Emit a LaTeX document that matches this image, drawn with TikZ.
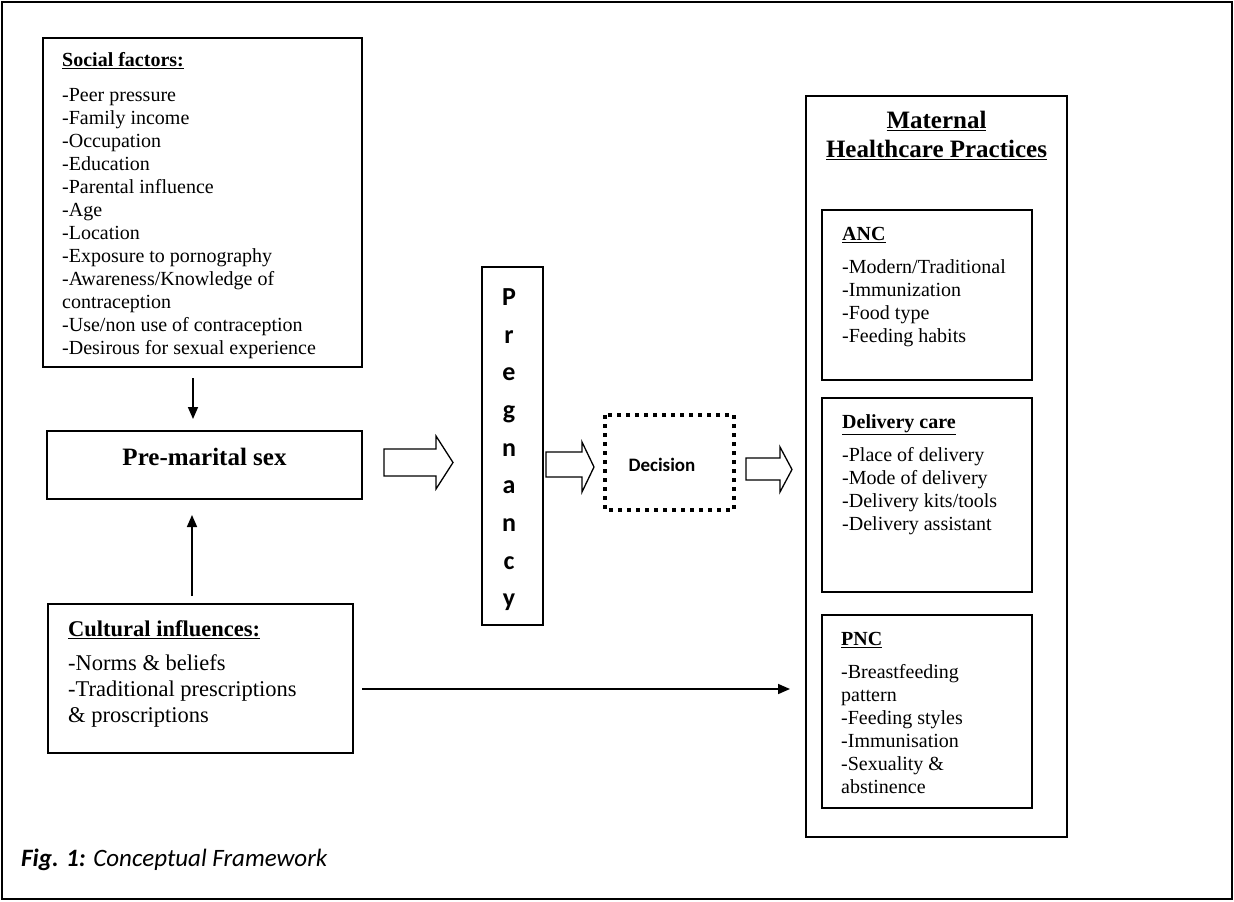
\documentclass[tikz,border=0pt]{standalone}
\usepackage{fontspec}
\setmainfont{Liberation Serif}
\newfontfamily\calib{Carlito}
\usetikzlibrary{arrows.meta,calc}
\begin{document}
\begin{tikzpicture}[x=1pt,y=-1pt,
  boxst/.style={draw, line width=1.6pt, inner sep=0pt, outer sep=0pt, anchor=north west},
  txt/.style={anchor=north west, inner sep=0pt, align=left, font=\fontsize{20}{23}\selectfont},
  conn/.style={line width=1.6pt, -{Triangle[length=12pt,width=10pt]}},
  blk/.style={draw, line width=1.3pt, fill=white, line join=miter}]
\useasboundingbox (0,0) rectangle (1234,902);
% outer frame
\node[boxst, line width=1.5pt, minimum width=1230pt, minimum height=897pt] (frame) at (2,2) {};
% left column
\node[boxst, minimum width=319pt, minimum height=329pt] (soc) at (43,38) {};
\node[txt] (soctxt) at (62,52.4) {\underline{\textbf{Social factors:}}\\[12pt]
-Peer pressure\\-Family income\\-Occupation\\-Education\\-Parental influence\\-Age\\-Location\\-Exposure to pornography\\-Awareness/Knowledge of\\contraception\\-Use/non use of contraception\\-Desirous for sexual experience};
\node[boxst, minimum width=315pt, minimum height=68pt] (pms) at (47,431) {};
\node[inner sep=0pt, font=\fontsize{25}{29}\selectfont\bfseries] (pmstxt) at (204.5,457) {Pre-marital sex};
\node[boxst, minimum width=305pt, minimum height=149pt] (cult) at (48,604) {};
\node[txt, font=\fontsize{22.5}{26}\selectfont] (culttxt) at (68,620.6) {\underline{\textbf{Cultural influences:}}\\[8pt]
-Norms \& beliefs\\-Traditional prescriptions\\\& proscriptions};
% pregnancy and decision
\node[boxst, minimum width=61pt, minimum height=358pt] (preg) at (482,267) {};
\node[anchor=north, inner sep=0pt, align=center, font=\calib\bfseries\fontsize{26}{37.7}\selectfont] (pregtxt) at (509,288.3) {P\\r\\e\\g\\n\\a\\n\\c\\y};
\node[boxst, draw=none, minimum width=129pt, minimum height=95pt] (dec) at (605,415) {};
\draw[line width=4pt, dash pattern=on 4pt off 5pt] (dec.north west) rectangle (dec.south east);
\node[inner sep=0pt, font=\calib\bfseries\fontsize{19}{23}\selectfont] (dectxt) at (662,465) {Decision};
% right column
\node[boxst, minimum width=261pt, minimum height=741pt] (mat) at (806,96) {};
\node[anchor=north, inner sep=0pt, align=center, font=\fontsize{25}{29}\selectfont\bfseries] (mattxt) at (936.5,111) {\underline{Maternal}\\\underline{Healthcare Practices}};
\node[boxst, minimum width=210pt, minimum height=170pt] (anc) at (822,210) {};
\node[txt] (anctxt) at (842,226.8) {\underline{\textbf{ANC}}\\[10pt]
-Modern/Traditional\\-Immunization\\-Food type\\-Feeding habits};
\node[boxst, minimum width=210pt, minimum height=194pt] (del) at (822,398) {};
\node[txt] (deltxt) at (842,414.3) {\underline{\textbf{Delivery care}}\\[10pt]
-Place of delivery\\-Mode of delivery\\-Delivery kits/tools\\-Delivery assistant};
\node[boxst, minimum width=210pt, minimum height=193pt] (pnc) at (822,615) {};
\node[txt] (pnctxt) at (841,631.8) {\underline{\textbf{PNC}}\\[10pt]
-Breastfeeding\\pattern\\-Feeding styles\\-Immunisation\\-Sexuality \&\\abstinence};
% connectors
\draw[conn, shorten <=11pt, shorten >=12pt] (soc.south -| 193,0) -- (pms.north -| 193,0);
\draw[conn, shorten <=8pt, shorten >=16pt] (cult.north -| 192,0) -- (pms.south -| 192,0);
\draw[conn, shorten <=9pt, shorten >=16pt] (cult.east |- 0,689) -- (mat.west |- 0,689);
% block arrows
\draw[blk] (384,449) -- (436,449) -- (436,436) -- (453,462.5) -- (436,489) -- (436,476) -- (384,476) -- cycle;
\draw[blk] (546,452) -- (582,452) -- (582,442) -- (594,467) -- (582,492) -- (582,477) -- (546,477) -- cycle;
\draw[blk] (746,458) -- (780,458) -- (780,447) -- (792,469.5) -- (780,492) -- (780,480) -- (746,480) -- cycle;
% caption
\node[anchor=base west, inner sep=0pt, font=\calib\itshape\fontsize{25}{29}\selectfont] (cap) at (21,866) {\textbf{Fig. 1:} Conceptual Framework};
\end{tikzpicture}
\end{document}
